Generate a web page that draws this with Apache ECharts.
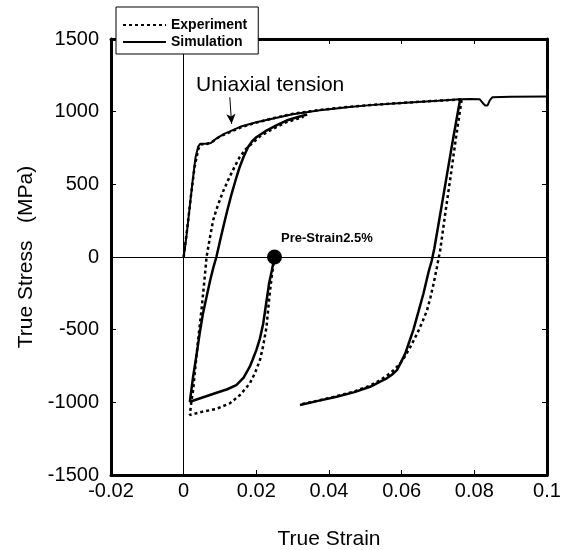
<!DOCTYPE html>
<html>
<head>
<meta charset="utf-8">
<script src="https://cdn.jsdelivr.net/npm/echarts@6/dist/echarts.min.js"></script>
<style>html,body{margin:0;padding:0;background:#fff}#c{width:566px;height:550px}</style>
</head>
<body>
<div id="c"></div>
<script>
// Tick labels / axis ranges
var xTicks = [-0.02, 0, 0.02, 0.04, 0.06, 0.08, 0.1];
var yTicks = [-1500, -1000, -500, 0, 500, 1000, 1500];

// Uniaxial tension
var expTension = [[0,0],[0.001,200],[0.002,420],[0.003,620],[0.004,740],[0.0047,775],[0.0065,778],[0.008,795],[0.010,830],[0.013,862],[0.016,895],[0.020,925],[0.025,957],[0.030,985],[0.0375,1012],[0.045,1032],[0.055,1052],[0.065,1068],[0.0765,1085]];
var simTension = [[0,0],[0.0008,150],[0.0016,330],[0.0025,530],[0.0033,690],[0.0040,760],[0.0046,780],[0.0060,780],[0.0075,785],[0.0090,815],[0.0110,845],[0.0132,870],[0.0160,900],[0.0200,927],[0.0250,955],[0.0300,982],[0.0375,1010],[0.0450,1030],[0.0513,1045],[0.0600,1060],[0.0700,1075],[0.0761,1085],[0.0790,1088],[0.0815,1085],[0.0823,1060],[0.0830,1043],[0.0836,1042],[0.0843,1080],[0.0850,1100],[0.0900,1103],[0.1,1105]];

// Pre-strain 2.5% : reverse loading then reloading
var expPre = [[0.0250,0],[0.0243,-120],[0.0236,-270],[0.0228,-481],[0.0219,-610],[0.0210,-709],[0.0196,-800],[0.0182,-870],[0.0155,-950],[0.0127,-1007],[0.0090,-1045],[0.0053,-1064],[0.0017,-1087],[0.0021,-1000],[0.0026,-915],[0.0035,-687],[0.0042,-520],[0.0049,-366],[0.0058,-137],[0.0063,0],[0.0072,130],[0.0081,252],[0.0090,325],[0.0099,389],[0.0110,460],[0.0122,527],[0.0138,610],[0.0154,687],[0.0170,740],[0.0187,779],[0.0210,830],[0.0240,875],[0.0280,925],[0.0330,965]];
var simPre = [[0.0250,0],[0.0243,-90],[0.0235,-183],[0.0227,-320],[0.0219,-457],[0.0210,-560],[0.0200,-641],[0.0190,-705],[0.0182,-755],[0.0165,-830],[0.0145,-881],[0.0120,-910],[0.0099,-927],[0.0060,-960],[0.0017,-996],[0.0026,-824],[0.0035,-680],[0.0044,-526],[0.0053,-390],[0.0065,-251],[0.0073,-160],[0.0082,-70],[0.0090,0],[0.0100,110],[0.0109,206],[0.0120,320],[0.0132,435],[0.0143,530],[0.0154,618],[0.0165,690],[0.0177,755],[0.0188,795],[0.0200,824],[0.0228,870],[0.0255,905],[0.0283,939],[0.0310,960],[0.0340,980]];

// Unloading / reverse loading from 7.6 %
var expRev = [[0.0765,1080],[0.0750,830],[0.0735,560],[0.0720,300],[0.0706,46],[0.0697,-70],[0.0688,-183],[0.0679,-280],[0.0670,-366],[0.0658,-440],[0.0647,-503],[0.0636,-560],[0.0624,-618],[0.0610,-680],[0.0596,-732],[0.0582,-770],[0.0568,-801],[0.0541,-847],[0.0513,-885],[0.0470,-925],[0.0421,-958],[0.0370,-988],[0.0320,-1015]];
var simRev = [[0.0761,1085],[0.0742,820],[0.0722,527],[0.0703,250],[0.0690,60],[0.0683,-23],[0.0674,-103],[0.0660,-251],[0.0646,-378],[0.0632,-503],[0.0620,-590],[0.0610,-663],[0.0598,-725],[0.0587,-778],[0.0573,-810],[0.0559,-835],[0.0541,-858],[0.0513,-893],[0.0470,-930],[0.0421,-962],[0.0370,-990],[0.0320,-1018]];

var preStrainPoint = [[0.025, 0]];
var arrowFrom = [0.0127, 1099];
var arrowTo = [0.0132, 916];

var FONT = 'Liberation Sans, Arial, sans-serif';
var expStyle = {color:'#000', width:2.5, type:[3,3]};
var simStyle = {color:'#000', width:2.5, type:'solid'};

function lineSeries(name, data, style, extra) {
  var s = {name:name, type:'line', data:data, symbol:'none', showSymbol:false, smooth:false,
    lineStyle:style, itemStyle:{color:'#000'}, animation:false, z:3};
  if (extra) for (var k in extra) s[k] = extra[k];
  return s;
}

var chart = echarts.init(document.getElementById('c'), null, {renderer:'canvas'});
var axisCommon = {
  type:'value', splitLine:{show:false},
  axisLine:{show:true, onZero:false, lineStyle:{color:'#000', width:3}},
  axisTick:{show:true, inside:true, length:5, lineStyle:{color:'#000', width:1}}
};
chart.setOption({
  animation:false,
  backgroundColor:'#fff',
  grid:{left:111, right:19, top:39, bottom:75, containLabel:false, outerBoundsMode:'none'},
  legend:{
    data:['Experiment','Simulation'], orient:'vertical', left:116, top:7,
    padding:[11,11,5,6], itemGap:3, itemWidth:43, itemHeight:14,
    backgroundColor:'#fff', borderColor:'#000', borderWidth:1, borderRadius:0,
    itemStyle:{opacity:0},
    textStyle:{fontFamily:FONT, fontWeight:'bold', fontSize:14, color:'#000'},
    selectedMode:false, z:10
  },
  xAxis:[
    Object.assign({}, axisCommon, {min:xTicks[0], max:xTicks[xTicks.length-1], interval:0.02, position:'bottom',
      name:'True Strain', nameLocation:'middle', nameGap:54,
      nameTextStyle:{fontFamily:FONT, fontSize:21, color:'#000'},
      axisLabel:{fontFamily:FONT, fontSize:20, color:'#000', margin:6,
        formatter:function(v){return String(+v.toFixed(4));}}}),
    Object.assign({}, axisCommon, {min:xTicks[0], max:xTicks[xTicks.length-1], interval:0.02, position:'top',
      axisLabel:{show:false}})
  ],
  yAxis:[
    Object.assign({}, axisCommon, {min:yTicks[0], max:yTicks[yTicks.length-1], interval:500, position:'left',
      name:'True Stress   (MPa)', nameLocation:'middle', nameGap:72,
      nameTextStyle:{fontFamily:FONT, fontSize:21, color:'#000'},
      axisLabel:{fontFamily:FONT, fontSize:20, color:'#000', margin:12,
        formatter:function(v){return String(v);}}}),
    Object.assign({}, axisCommon, {min:yTicks[0], max:yTicks[yTicks.length-1], interval:500, position:'right',
      axisLabel:{show:false}})
  ],
  series:[
    lineSeries('Experiment', expTension, expStyle),
    lineSeries('Experiment', expPre, expStyle),
    lineSeries('Experiment', expRev, expStyle),
    lineSeries('Simulation', simTension, {color:'#000', width:2, type:'solid'}, {
      markLine:{silent:true, symbol:['none','none'], label:{show:false}, animation:false,
        lineStyle:{color:'#000', width:1, type:'solid'},
        data:[{xAxis:0},{yAxis:0}]}
    }),
    lineSeries('Simulation', simPre, simStyle, {
      markLine:{silent:true, symbol:['none','arrow'], symbolSize:[7,10], label:{show:false}, animation:false,
        lineStyle:{color:'#000', width:1, type:'solid'},
        data:[[{coord:arrowFrom},{coord:arrowTo}]]}
    }),
    lineSeries('Simulation', simRev, simStyle),
    {type:'scatter', data:preStrainPoint, symbol:'circle', symbolSize:15, itemStyle:{color:'#000', opacity:1}, z:5,
      label:{show:true, position:'right', formatter:'Pre-Strain2.5%', offset:[-6,-19],
        fontFamily:FONT, fontWeight:'bold', fontSize:13, color:'#000'}}
  ],
  graphic:[
    {type:'text', left:196, top:75, z:10,
      style:{text:'Uniaxial tension', fontFamily:FONT, fontSize:21, fill:'#000'}}
  ]
});
</script>
</body>
</html>
